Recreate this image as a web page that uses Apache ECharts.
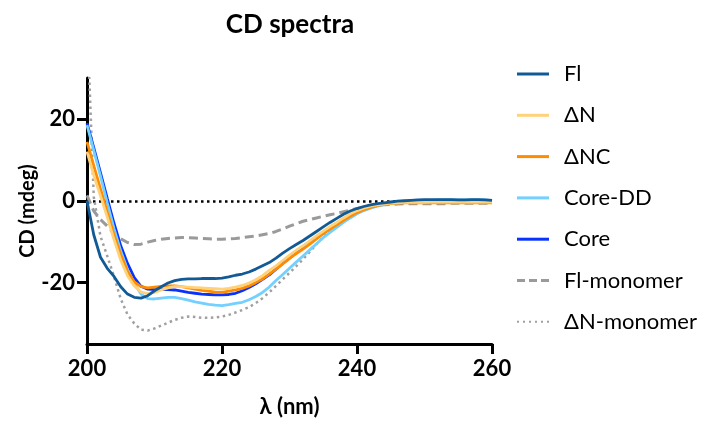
<!DOCTYPE html>
<html>
<head>
<meta charset="utf-8">
<script src="https://cdn.jsdelivr.net/npm/echarts@6/dist/echarts.min.js"></script>
<style>
html,body{margin:0;padding:0;background:#fff;}
#chart{width:701px;height:423px;}
</style>
</head>
<body>
<div id="chart"></div>
<script>
// wavelengths (nm), 1 nm steps 200..260
const wavelengths = [200,201,202,203,204,205,206,207,208,209,210,211,212,213,214,215,216,217,218,219,220,221,222,223,224,225,226,227,228,229,230,231,232,233,234,235,236,237,238,239,240,241,242,243,244,245,246,247,248,249,250,251,252,253,254,255,256,257,258,259,260];

const seriesNames = ['Fl', 'ΔN', 'ΔNC', 'Core-DD', 'Core', 'Fl-monomer', 'ΔN-monomer'];

const fl = [0,-8.3,-13.8,-16.5,-18.5,-21.0,-22.8,-23.6,-23.8,-23.2,-22.0,-21.0,-20.1,-19.5,-19.2,-19.1,-19.1,-19.0,-19.0,-19.0,-18.9,-18.6,-18.2,-17.9,-17.4,-16.7,-15.9,-15.1,-14.0,-12.8,-11.7,-10.7,-9.7,-8.6,-7.5,-6.4,-5.3,-4.3,-3.3,-2.5,-1.9,-1.4,-1.0,-0.7,-0.5,-0.3,-0.1,0.0,0.1,0.2,0.3,0.3,0.3,0.3,0.3,0.2,0.2,0.3,0.3,0.2,0.1];

const dN = [12.0,6.2,1.2,-4.0,-9.5,-14.5,-18.3,-20.8,-22.3,-22.7,-22.4,-21.8,-21.3,-21.0,-21.0,-21.1,-21.2,-21.3,-21.4,-21.5,-21.6,-21.4,-21.1,-20.7,-20.1,-19.3,-18.3,-17.0,-15.9,-14.6,-13.3,-12.1,-11.0,-9.8,-8.6,-7.4,-6.3,-5.3,-4.2,-3.2,-2.4,-1.8,-1.3,-1.0,-0.8,-0.6,-0.5,-0.4,-0.4,-0.4,-0.4,-0.3,-0.3,-0.3,-0.3,-0.3,-0.3,-0.3,-0.3,-0.3,-0.3];

const dNC = [14.4,8.6,2.9,-2.8,-8.3,-13.2,-17.2,-19.8,-21.0,-21.3,-21.1,-20.9,-20.8,-20.8,-21.0,-21.3,-21.6,-21.9,-22.1,-22.3,-22.4,-22.1,-21.8,-21.4,-20.8,-20.0,-19.1,-17.9,-16.7,-15.4,-14.1,-12.9,-11.8,-10.6,-9.3,-8.0,-6.9,-5.9,-4.8,-3.8,-2.9,-2.2,-1.6,-1.2,-0.9,-0.7,-0.6,-0.5,-0.5,-0.5,-0.5,-0.5,-0.5,-0.5,-0.5,-0.5,-0.5,-0.5,-0.5,-0.5,-0.5];

const coreDD = [18.5,12.3,6.0,-0.5,-6.8,-12.3,-16.8,-20.2,-22.8,-23.9,-24.0,-23.8,-23.6,-23.6,-23.9,-24.3,-24.7,-25.0,-25.3,-25.5,-25.6,-25.4,-25.1,-24.8,-24.2,-23.4,-22.4,-21.1,-19.5,-18.0,-16.5,-15.0,-13.5,-12.0,-10.5,-9.0,-7.7,-6.5,-5.3,-4.2,-3.2,-2.4,-1.8,-1.3,-0.9,-0.6,-0.4,-0.2,-0.1,0.0,0.1,0.1,0.2,0.2,0.2,0.2,0.2,0.2,0.2,0.2,0.1];

const core = [19.0,13.0,6.8,0.6,-5.5,-11.0,-15.3,-18.8,-20.9,-21.6,-21.7,-21.7,-21.7,-21.8,-22.1,-22.4,-22.6,-22.8,-22.9,-23.0,-23.0,-22.9,-22.6,-22.0,-21.2,-20.3,-19.2,-18.1,-16.7,-15.3,-14.0,-12.7,-11.5,-10.3,-9.1,-7.9,-6.8,-5.7,-4.6,-3.6,-2.7,-2.0,-1.5,-1.1,-0.8,-0.5,-0.3,-0.2,-0.1,0.0,0.0,0.1,0.1,0.1,0.1,0.1,0.1,0.1,0.1,0.1,0.0];

const flMono = [1.3,-2.5,-4.6,-6.2,-8.0,-9.3,-10.2,-10.7,-10.6,-10.1,-9.7,-9.4,-9.2,-9.1,-9.0,-9.0,-9.1,-9.2,-9.3,-9.4,-9.4,-9.3,-9.2,-9.0,-8.8,-8.6,-8.3,-8.0,-7.5,-6.9,-6.2,-5.6,-5.0,-4.6,-4.2,-3.8,-3.4,-3.1,-2.7,-2.3,-1.9,-1.6,-1.3,-1.1,-1.0,-0.9,-0.8,-0.7,-0.7,-0.7,-0.7,-0.7,-0.7,-0.7,-0.6,-0.6,-0.6,-0.6,-0.6,-0.6,-0.6];

const dNMono = [45,1.0,-8.7,-13.5,-18.5,-24.0,-27.8,-30.0,-31.5,-31.7,-31.2,-30.5,-29.8,-29.1,-28.6,-28.3,-28.4,-28.6,-28.6,-28.5,-28.3,-27.9,-27.3,-26.7,-26.0,-25.0,-23.8,-22.4,-20.8,-19.2,-17.6,-16.0,-14.3,-12.5,-10.6,-8.8,-7.4,-6.3,-5.0,-3.9,-2.9,-2.1,-1.5,-1.1,-0.8,-0.6,-0.5,-0.5,-0.5,-0.5,-0.5,-0.5,-0.5,-0.5,-0.5,-0.5,-0.5,-0.5,-0.5,-0.5,-0.5];

const xTicks = [200, 220, 240, 260];
const yTicks = [-20, 0, 20];

const seriesValues = [fl, dN, dNC, coreDD, core, flMono, dNMono];
const colors = ['#125A96', '#FFD27A', '#FF8C00', '#73D0FF', '#0A32FF', '#9A9A9A', '#A0A0A0'];
const lineTypes = ['solid','solid','solid','solid','solid',[9,5],[2.5,3.5]];
const lineWidths = [2.8,2.8,2.8,2.8,2.8,3,2.5];

const SOLID_ICON = 'rect';
const DASH_ICON = 'path://M0,0H8V3H0ZM12,0H20V3H12ZM24,0H32V3H24Z';
const DOT_ICON = 'path://M0,0.5H2V2.5H0ZM6,0.5H8V2.5H6ZM12,0.5H14V2.5H12ZM18,0.5H20V2.5H18ZM24,0.5H26V2.5H24ZM30,0.5H32V2.5H30ZM0,0H0.01V3H0Z';
const legendIcons = [SOLID_ICON, SOLID_ICON, SOLID_ICON, SOLID_ICON, SOLID_ICON, DASH_ICON, DOT_ICON];

const FONT = 'Lato';

const series = seriesNames.map((name, i) => ({
  name: name,
  type: 'line',
  symbol: 'none',
  smooth: false,
  clip: true,
  z: 10 - i,
  data: wavelengths.map((w, k) => [w, seriesValues[i][k]]),
  lineStyle: { color: colors[i], width: lineWidths[i], type: lineTypes[i] },
  itemStyle: { color: colors[i] },
  emphasis: { disabled: true }
}));

series[0].markLine = {
  silent: true,
  symbol: 'none',
  label: { show: false },
  lineStyle: { color: '#000', width: 2.5, type: [2.5, 3.5] },
  data: [{ yAxis: 0 }],
  z: 1
};

const chart = echarts.init(document.getElementById('chart'), null, { renderer: 'canvas' });
chart.setOption({
  animation: false,
  backgroundColor: '#fff',
  title: {
    text: 'CD spectra',
    left: 285,
    top: 7,
    textAlign: 'center',
    textStyle: { fontFamily: FONT, fontWeight: 'bold', fontSize: 26, color: '#000' }
  },
  grid: { left: 87, right: 209, top: 78, bottom: 76, containLabel: false },
  legend: {
    data: seriesNames.map((n, i) => ({ name: n, icon: legendIcons[i], itemStyle: { color: colors[i] } })),
    orient: 'vertical',
    left: 512,
    top: 58,
    itemWidth: 32,
    itemHeight: 3,
    itemGap: 19.3,
    textStyle: { fontFamily: FONT, fontSize: 22, color: '#000', lineHeight: 22, padding: [0, 0, 0, 10] }
  },
  xAxis: {
    type: 'value',
    min: 200,
    max: 260,
    interval: 20,
    name: 'λ (nm)',
    nameLocation: 'middle',
    nameGap: 52,
    nameMoveOverlap: false,
    nameTextStyle: { fontFamily: FONT, fontWeight: 'bold', fontSize: 22, color: '#000' },
    axisLine: { show: true, onZero: false, lineStyle: { color: '#000', width: 3 } },
    axisTick: { show: true, length: 10, lineStyle: { color: '#000', width: 3 } },
    axisLabel: { fontFamily: FONT, fontWeight: 'bold', fontSize: 22, color: '#000', margin: 14 },
    splitLine: { show: false }
  },
  yAxis: {
    type: 'value',
    min: -35,
    max: 30,
    name: 'CD (mdeg)',
    nameLocation: 'middle',
    nameGap: 49,
    nameMoveOverlap: false,
    nameTextStyle: { fontFamily: FONT, fontWeight: 'bold', fontSize: 20, color: '#000' },
    axisLine: { show: true, onZero: false, lineStyle: { color: '#000', width: 3 } },
    axisTick: { show: true, length: 10, customValues: yTicks, lineStyle: { color: '#000', width: 3 } },
    axisLabel: { fontFamily: FONT, fontWeight: 'bold', fontSize: 22, color: '#000', margin: 12, customValues: yTicks },
    splitLine: { show: false }
  },
  series: series
});
</script>
</body>
</html>
